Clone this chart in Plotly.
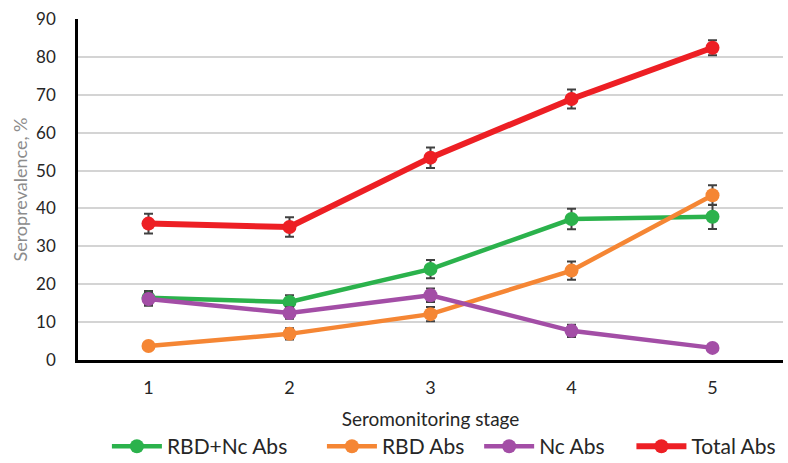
import plotly.graph_objects as go

stages = [1, 2, 3, 4, 5]

rbd_nc = [16.4, 15.3, 24.0, 37.2, 37.8]
rbd_nc_err = [1.8, 1.8, 2.4, 2.7, 3.2]

rbd = [3.7, 6.9, 12.1, 23.6, 43.5]
rbd_err = [0.8, 1.5, 1.9, 2.4, 2.6]

nc = [16.1, 12.4, 17.1, 7.7, 3.2]
nc_err = [1.8, 1.5, 1.8, 1.6, 0.8]

total = [36.0, 35.1, 53.4, 68.9, 82.4]
total_err = [2.6, 2.6, 2.7, 2.5, 2.0]

series_names = ["RBD+Nc Abs", "RBD Abs", "Nc Abs", "Total Abs"]
series_values = [rbd_nc, rbd, nc, total]
series_errors = [rbd_nc_err, rbd_err, nc_err, total_err]
series_colors = ["#2bb24c", "#f58634", "#a34ea6", "#ed1f24"]
series_widths = [4.5, 4.5, 4.5, 6]
legend_ids = ["legend", "legend2", "legend3", "legend4"]
legend_x = [0.041, 0.346, 0.569, 0.785]

fig = go.Figure()
for name, vals, errs, color, lw, lid in zip(series_names, series_values, series_errors,
                                            series_colors, series_widths, legend_ids):
    fig.add_trace(go.Scatter(
        x=stages, y=vals, name=name, mode="lines+markers",
        line=dict(color=color, width=lw),
        marker=dict(color=color, size=14),
        error_y=dict(type="data", array=errs, visible=True,
                     color="#404040", thickness=2, width=4.5),
        cliponaxis=False, legend=lid,
    ))

font_family = "Lato, 'Open Sans', sans-serif"

legends = {}
for lid, lx in zip(legend_ids, legend_x):
    legends[lid] = dict(orientation="h", x=lx, xanchor="left",
                        y=-0.314, yanchor="bottom",
                        font=dict(size=21, color="#262626"), itemwidth=50,
                        bgcolor="rgba(0,0,0,0)")

fig.update_layout(
    width=788, height=463,
    margin=dict(l=78, r=5, t=19, b=103, autoexpand=False),
    paper_bgcolor="white", plot_bgcolor="white",
    font=dict(family=font_family, size=17, color="#262626"),
    showlegend=True,
    xaxis=dict(range=[0.5, 5.5], tickvals=stages, ticktext=[str(s) for s in stages],
               showgrid=False, zeroline=False, showline=True, linecolor="black",
               linewidth=2.5, ticks="outside", ticklen=10, tickcolor="rgba(0,0,0,0)",
               tickfont=dict(size=18, color="#262626"),
               title=dict(text="Seromonitoring stage", font=dict(size=19, color="#262626"),
                          standoff=16)),
    yaxis=dict(range=[0, 90], dtick=10, showgrid=True, gridcolor="#d4d4d4", gridwidth=1.5,
               zeroline=False, showline=True, linecolor="black", linewidth=2.5,
               ticks="outside", ticklen=16, tickcolor="rgba(0,0,0,0)",
               tickfont=dict(size=17, color="#262626"),
               title=dict(text="Seroprevalence, %", font=dict(size=18, color="#8c8c8c"),
                          standoff=4)),
    **legends,
)

fig.write_html("out.html", config={"displayModeBar": False},
               post_script="document.body.style.margin='0';")
